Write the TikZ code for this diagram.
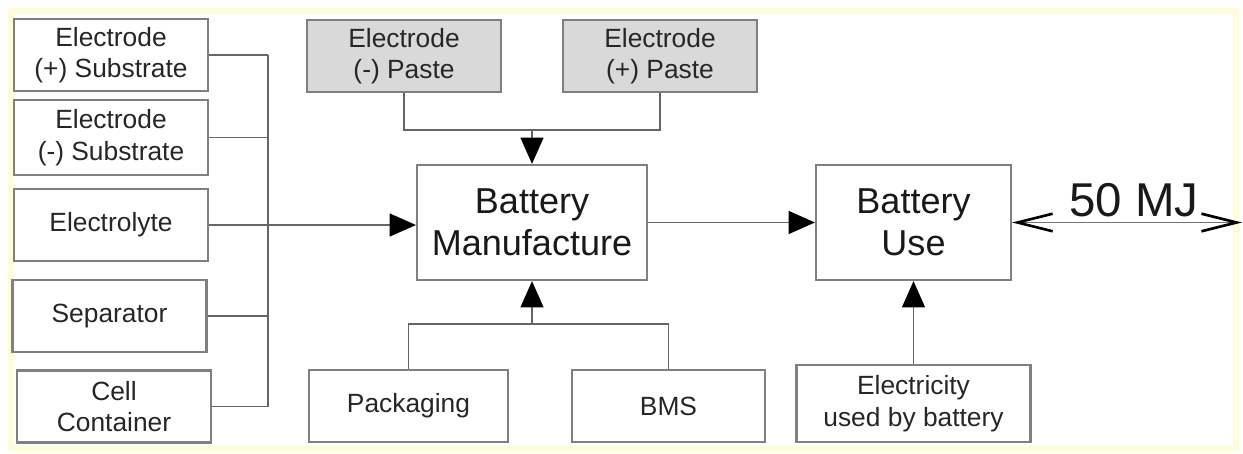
\documentclass[tikz,border=0pt]{standalone}
\usepackage{fontspec}
\setmainfont{Liberation Sans}
\usepackage{tikz}
\usetikzlibrary{arrows.meta}

\tikzset{
	box/.style={draw=black!50, line width=1.2pt, minimum width=3.88cm, minimum height=1.44cm, align=center, inner sep=1pt, font=\fontsize{15}{18}\selectfont, text=black!85},
	pastebox/.style={box, fill=black!15},
	bigbox/.style={draw=black!50, line width=1.2pt, minimum height=2.3cm, align=center, inner sep=1pt, font=\fontsize{20.5}{24}\selectfont, text=black!90},
	link/.style={draw=black!60, line width=1.1pt},
	arr/.style={link, -{Triangle[length=15pt,width=13pt,color=black]}}
}

\begin{document}
\begin{tikzpicture}
		\useasboundingbox (0,0) rectangle (24.86,9.06);
		\draw[yellow!15, line width=3pt] (0.22,0.1) rectangle (24.72,8.84);
		% 左侧材料
		\node[box] (subP) at (2.22,7.96) {Electrode\\(+) Substrate};
		\node[box, minimum height=1.5cm] (subN) at (2.22,6.31) {Electrode\\(-) Substrate};
		\node[box] (elyte) at (2.22,4.56) {Electrolyte};
		\node[box] (sep) at (2.19,2.74) {Separator};
		\node[box] (cont) at (2.28,0.93) {Cell\\Container};
		% 上方浆料
		\node[pastebox] (pasteN) at (8.08,7.94) {Electrode\\(-) Paste};
		\node[pastebox] (pasteP) at (13.2,7.94) {Electrode\\(+) Paste};
		% 中间
		\node[bigbox, minimum width=4.6cm] (manu) at (10.64,4.61) {Battery\\Manufacture};
		\node[bigbox, minimum width=3.9cm] (use) at (18.27,4.61) {Battery\\Use};
		% 下方
		\node[box, minimum width=3.98cm] (pack) at (8.17,0.94) {Packaging};
		\node[box, minimum width=3.86cm] (bms) at (13.37,0.94) {BMS};
		\node[box, minimum width=4.68cm, minimum height=1.54cm] (elec) at (18.27,0.99) {Electricity\\used by battery};
		% 汇流线
		\coordinate (bus) at (5.36,0);
		\coordinate (topJ) at (0,6.46);
		\coordinate (botJ) at (0,2.58);
		\foreach \n in {subP,subN,elyte,sep,cont}
			\draw[link] (\n.east) -- (\n.east -| bus);
		\draw[link] (subP.east -| bus) -- (cont.east -| bus);
		\draw[arr] (elyte.east -| bus) -- (elyte.east -| manu.west);
		\draw[link] (pasteN.south) -- (pasteN.south |- topJ) -- (pasteP.south |- topJ) -- (pasteP.south);
		\draw[arr] (manu.north |- topJ) -- (manu.north);
		\draw[link] (pack.north) -- (pack.north |- botJ) -- (bms.north |- botJ) -- (bms.north);
		\draw[arr] (manu.south |- botJ) -- (manu.south);
		\draw[arr] (manu.east) -- (use.west);
		\draw[arr] (elec.north) -- (use.south);
		% 能量
		\coordinate (mjEnd) at (24.84,4.61);
		\draw[draw=black!55, line width=1pt, {Straight Barb[length=20pt,width=10pt,color=black,line width=1.5pt]}-{Straight Barb[length=20pt,width=10pt,color=black,line width=1.5pt]}] (use.east) -- (mjEnd);
		\node[anchor=base, font=\fontsize{27}{30}\selectfont, text=black!90] (mj) at (22.68,4.72) {50 MJ};
	\end{tikzpicture}
\end{document}
